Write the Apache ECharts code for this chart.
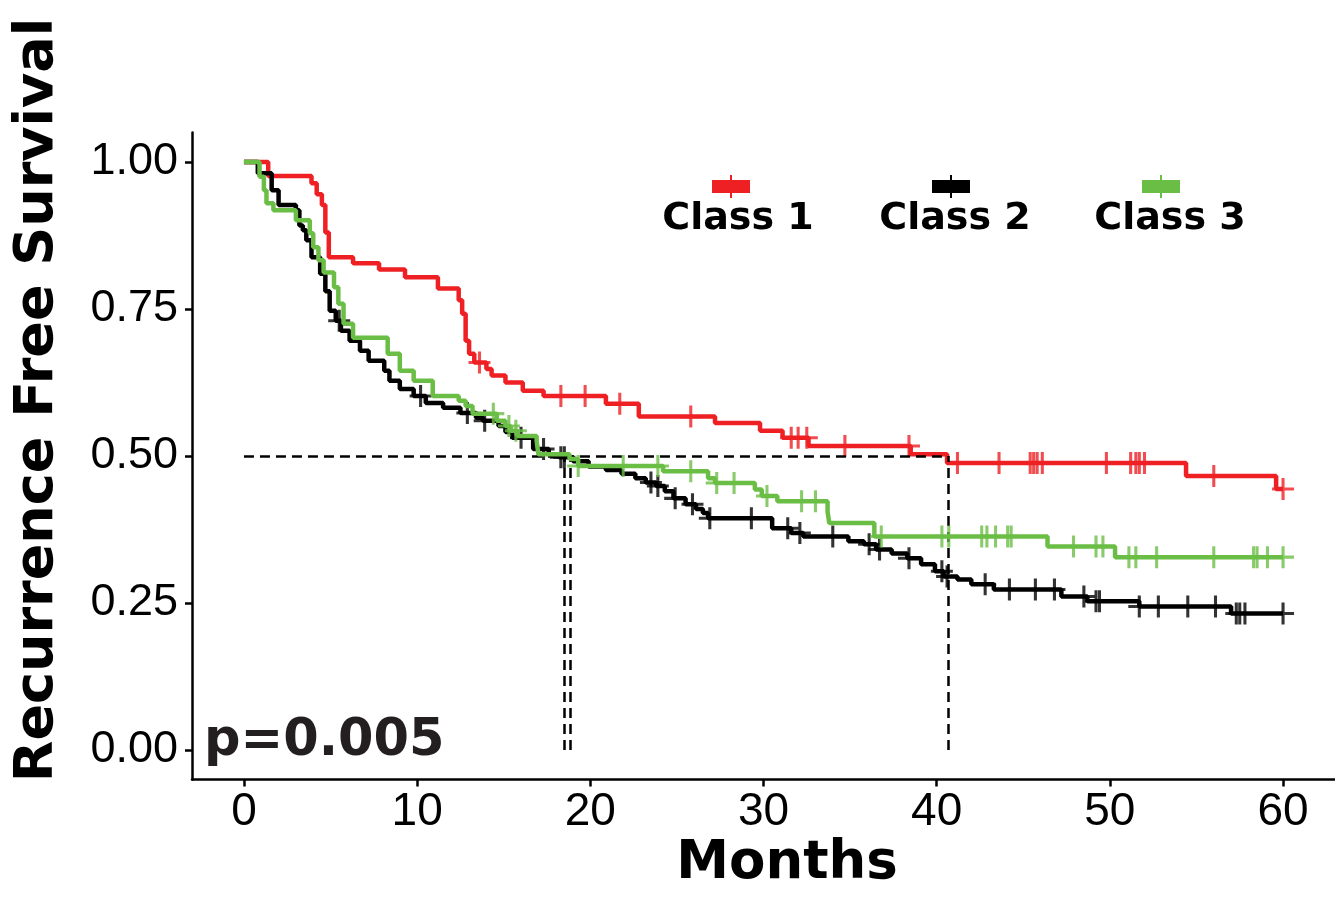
<!DOCTYPE html>
<html><head><meta charset="utf-8">
<script src="https://cdn.jsdelivr.net/npm/echarts@6/dist/echarts.min.js"></script>
<style>html,body{margin:0;padding:0;background:#fff}#c{width:1335px;height:906px}</style>
</head><body><div id="c"></div><script>
// ---- data (months, survival probability) ----
const class1Time = [0, 1.4, 3.9, 4.2, 4.5, 4.7, 4.9, 6.3, 7.8, 9.3, 11.2, 12.4, 12.6, 12.8, 13.0, 13.3, 14.0, 14.3, 15.1, 16.1, 17.3, 20.9, 22.8, 27.2, 29.8, 31.1, 32.6, 38.5, 40.6, 54.4, 59.6, 60];
const class1Surv = [1, 0.976, 0.964, 0.945, 0.927, 0.88, 0.838, 0.828, 0.817, 0.804, 0.785, 0.765, 0.742, 0.696, 0.674, 0.659, 0.648, 0.637, 0.625, 0.611, 0.602, 0.589, 0.567, 0.556, 0.543, 0.531, 0.517, 0.503, 0.488, 0.466, 0.444, 0.444];
const class1Censor = [13.6, 18.3, 19.7, 21.7, 25.8, 31.6, 32.0, 32.5, 34.7, 38.4, 41.2, 43.6, 45.4, 45.6, 45.8, 46.1, 49.8, 51.2, 51.5, 51.7, 52.0, 56.0, 60];

const class2Time = [0, 0.8, 1.6, 2.0, 3.0, 3.2, 3.4, 3.6, 3.9, 4.4, 4.7, 4.95, 5.3, 5.6, 6.1, 6.7, 7.2, 8.1, 8.4, 9.0, 9.8, 10.5, 11.5, 12.5, 13.4, 13.8, 14.7, 15.1, 15.5, 16.7, 17.6, 18.2, 19.0, 19.9, 20.9, 21.8, 22.6, 23.2, 23.8, 24.3, 24.8, 25.5, 26.1, 26.5, 26.8, 30.5, 31.6, 32.3, 34.9, 35.8, 36.5, 37.4, 38.3, 39.1, 39.9, 40.4, 41.2, 42.0, 43.3, 47.2, 48.7, 51.7, 57.0, 60];
const class2Surv = [1, 0.981, 0.952, 0.927, 0.918, 0.892, 0.884, 0.867, 0.838, 0.81, 0.78, 0.747, 0.73, 0.713, 0.696, 0.679, 0.662, 0.645, 0.628, 0.614, 0.602, 0.59, 0.582, 0.573, 0.565, 0.56, 0.551, 0.541, 0.531, 0.512, 0.503, 0.498, 0.491, 0.482, 0.476, 0.47, 0.462, 0.455, 0.449, 0.44, 0.428, 0.418, 0.41, 0.403, 0.394, 0.377, 0.369, 0.363, 0.355, 0.35, 0.341, 0.334, 0.326, 0.316, 0.304, 0.295, 0.29, 0.282, 0.273, 0.261, 0.253, 0.244, 0.232, 0.232];
const class2Censor = [5.5, 10.2, 12.9, 13.9, 16.0, 17.3, 18.3, 18.5, 23.5, 23.9, 24.9, 25.9, 26.9, 29.3, 31.4, 32.1, 34.0, 36.1, 36.7, 38.4, 40.3, 40.6, 42.8, 44.2, 45.7, 46.8, 48.5, 49.2, 49.4, 51.7, 52.8, 54.5, 56.1, 57.3, 57.5, 57.8, 60];

const class3Time = [0, 0.9, 1.15, 1.3, 1.7, 3.0, 3.8, 4.0, 4.3, 4.6, 5.2, 5.45, 5.75, 6.3, 8.3, 9.0, 9.8, 10.9, 12.4, 12.8, 13.2, 14.6, 15.1, 15.4, 15.8, 16.9, 17.0, 18.8, 19.3, 24.2, 26.8, 27.2, 29.5, 29.9, 30.8, 33.7, 33.8, 36.4, 46.4, 50.3, 60];
const class3Surv = [1, 0.975, 0.952, 0.93, 0.918, 0.901, 0.879, 0.855, 0.833, 0.812, 0.787, 0.759, 0.725, 0.701, 0.674, 0.645, 0.628, 0.602, 0.594, 0.585, 0.572, 0.56, 0.551, 0.543, 0.534, 0.526, 0.503, 0.495, 0.483, 0.474, 0.462, 0.454, 0.443, 0.432, 0.423, 0.405, 0.386, 0.363, 0.346, 0.328, 0.328];
const class3Censor = [14.4, 15.3, 15.7, 19.3, 21.9, 23.9, 25.8, 27.3, 28.3, 30.2, 32.2, 33.0, 36.8, 40.3, 40.7, 42.6, 42.9, 43.4, 44.1, 44.3, 47.9, 49.2, 49.6, 51.1, 51.5, 52.7, 56.0, 58.3, 58.5, 59.1, 60];

const medianTimes = [40.65, 18.5, 18.85];
const medianLevel = 0.5;
const xTicks = [0, 10, 20, 30, 40, 50, 60];
const yTicks = [0, 0.25, 0.5, 0.75, 1];
const classNames = ['Class 1', 'Class 2', 'Class 3'];
const pText = 'p=0.005';

// ---- styling ----
const colors = ['#EE2024', '#000000', '#6BBE45'];
const plusPath = 'path://M8.6,0H11.4V20H8.6Z M0,8.6H20V11.4H0Z';
const boldFont = '"DejaVu Sans", sans-serif';
const tickFont = '"Liberation Sans", Arial, sans-serif';

function survAt(times, surv, t) {
  let v = surv[0];
  for (let i = 0; i < times.length; i++) { if (times[i] <= t) v = surv[i]; else break; }
  return v;
}
const groups = [
  [class1Time, class1Surv, class1Censor],
  [class2Time, class2Surv, class2Censor],
  [class3Time, class3Surv, class3Censor]
];

const series = [];
groups.forEach((g, k) => {
  series.push({
    type: 'line', step: 'end', showSymbol: false, z: 3 + k,
    data: g[0].map((t, i) => [t, g[1][i]]),
    lineStyle: { color: colors[k], width: 4.5 },
    itemStyle: { color: colors[k] },
    emphasis: { disabled: true }
  });
  series.push({
    type: 'scatter', symbol: plusPath, symbolSize: 22, z: 3 + k,
    data: g[2].map(t => [t, survAt(g[0], g[1], t)]),
    itemStyle: { color: colors[k] },
    emphasis: { disabled: true }
  });
});
const maxMed = Math.max(...medianTimes);
const mlData = [[{ coord: [0, medianLevel] }, { coord: [maxMed, medianLevel] }]];
medianTimes.forEach(m => mlData.push([{ coord: [m, 0] }, { coord: [m, medianLevel] }]));
series.push({
  type: 'line', data: [[0, medianLevel]], showSymbol: false, lineStyle: { width: 0, opacity: 0 }, z: 2,
  markLine: { silent: true, symbol: 'none', animation: false,
    lineStyle: { color: '#000', width: 2.5, type: [10, 6] }, label: { show: false }, data: mlData }
});

const legendX = [731, 951, 1161];
const legendTextX = [738, 955, 1170];
const graphic = [];
classNames.forEach((n, k) => {
  graphic.push({ type: 'rect', shape: { x: legendX[k] - 19, y: 180, width: 38, height: 13 }, style: { fill: colors[k] } });
  graphic.push({ type: 'line', shape: { x1: legendX[k], y1: 175, x2: legendX[k], y2: 198 }, style: { stroke: colors[k], lineWidth: 2 } });
  graphic.push({ type: 'text', x: legendTextX[k], y: 219, style: { text: n, fontFamily: boldFont, fontWeight: 'bold', fontSize: 38, fill: '#000', align: 'center', verticalAlign: 'middle' } });
});
graphic.push({ type: 'text', x: 787, y: 864, style: { text: 'Months', fontFamily: boldFont, fontWeight: 'bold', fontSize: 53, fill: '#000', align: 'center', verticalAlign: 'middle' } });
graphic.push({ type: 'text', x: 38, y: 400, rotation: Math.PI / 2, style: { text: 'Recurrence Free Survival', fontFamily: boldFont, fontWeight: 'bold', fontSize: 54, fill: '#000', align: 'center', verticalAlign: 'middle' } });
graphic.push({ type: 'text', x: 204, y: 742, style: { text: pText, fontFamily: boldFont, fontWeight: 'bold', fontSize: 51, fill: '#231F20', align: 'left', verticalAlign: 'middle' } });

const chart = echarts.init(document.getElementById('c'));
chart.setOption({
  animation: false,
  backgroundColor: '#fff',
  grid: { left: 192, top: 132.6, width: 1149.5, height: 646.8, containLabel: false },
  xAxis: {
    type: 'value', min: -3, max: 63,
    axisLine: { show: true, onZero: false, lineStyle: { color: '#000', width: 2.5 } },
    axisTick: { show: true, length: 7, lineStyle: { color: '#000', width: 2.5 }, customValues: xTicks },
    axisLabel: { customValues: xTicks, fontFamily: tickFont, fontSize: 46, color: '#000', margin: 10 },
    splitLine: { show: false }
  },
  yAxis: {
    type: 'value', min: -0.05, max: 1.05,
    axisLine: { show: true, onZero: false, lineStyle: { color: '#000', width: 2.5 } },
    axisTick: { show: true, length: 7, lineStyle: { color: '#000', width: 2.5 }, customValues: yTicks },
    axisLabel: { customValues: yTicks, fontFamily: tickFont, fontSize: 45, color: '#000', margin: 14, formatter: v => v.toFixed(2) },
    splitLine: { show: false }
  },
  series: series,
  graphic: graphic
});
</script></body></html>
